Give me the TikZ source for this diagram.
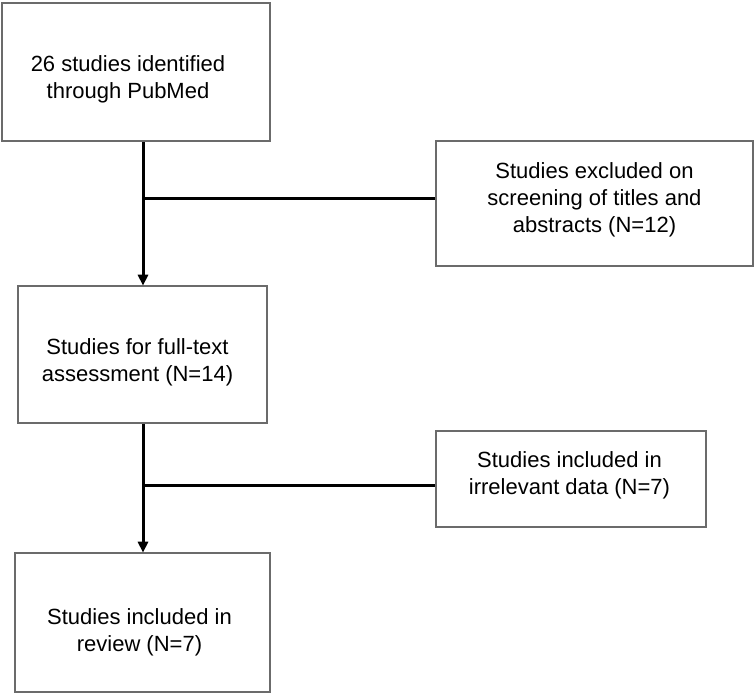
\documentclass[tikz,border=0pt]{standalone}
\usepackage{fontspec}
\setmainfont{Liberation Sans}
\usetikzlibrary{arrows.meta}
\begin{document}
\begin{tikzpicture}[x=1pt,y=1pt,
  box/.style={draw=black!58, line width=1.6pt, fill=white, inner sep=0pt},
  txt/.style={align=center, inner sep=0pt, font=\fontsize{22pt}{27pt}\selectfont, text=black},
  conn/.style={draw=black, line width=3pt},
  arr/.style={conn, -{Triangle[length=11pt,width=10pt]}, shorten >=-0.5pt}]
\useasboundingbox (0,0) rectangle (756,-700);
\fill[white] (0,0) rectangle (756,-700);
\node[box, minimum width=268pt, minimum height=138pt,
  label={[txt, xshift=-8pt, yshift=-7pt]center:26 studies identified\\through PubMed}] (b1) at (136,-72) {};
\node[box, minimum width=317pt, minimum height=125pt,
  label={[txt, yshift=3.5pt]center:Studies excluded on\\screening of titles and\\abstracts (N=12)}] (b2) at (594.5,-203.5) {};
\node[box, minimum width=249pt, minimum height=137pt,
  label={[txt, xshift=-5pt, yshift=-7.5pt]center:Studies for full-text\\assessment (N=14)}] (b3) at (142.5,-354.5) {};
\node[box, minimum width=270pt, minimum height=96pt,
  label={[txt, xshift=-1.5pt, yshift=4pt]center:Studies included in\\irrelevant data (N=7)}] (b4) at (571,-479) {};
\node[box, minimum width=255pt, minimum height=139pt,
  label={[txt, xshift=-3pt, yshift=-10pt]center:Studies included in\\review (N=7)}] (b5) at (142.5,-622.5) {};
\coordinate (v) at (143,0);
\coordinate (h1) at (0,-199);
\coordinate (h2) at (0,-486);
\draw[arr] (b1.south -| v) -- (b3.north -| v);
\draw[conn] (v |- h1) -- (b2.west |- h1);
\draw[arr] (b3.south -| v) -- (b5.north -| v);
\draw[conn] (v |- h2) -- (b4.west |- h2);
\end{tikzpicture}
\end{document}
